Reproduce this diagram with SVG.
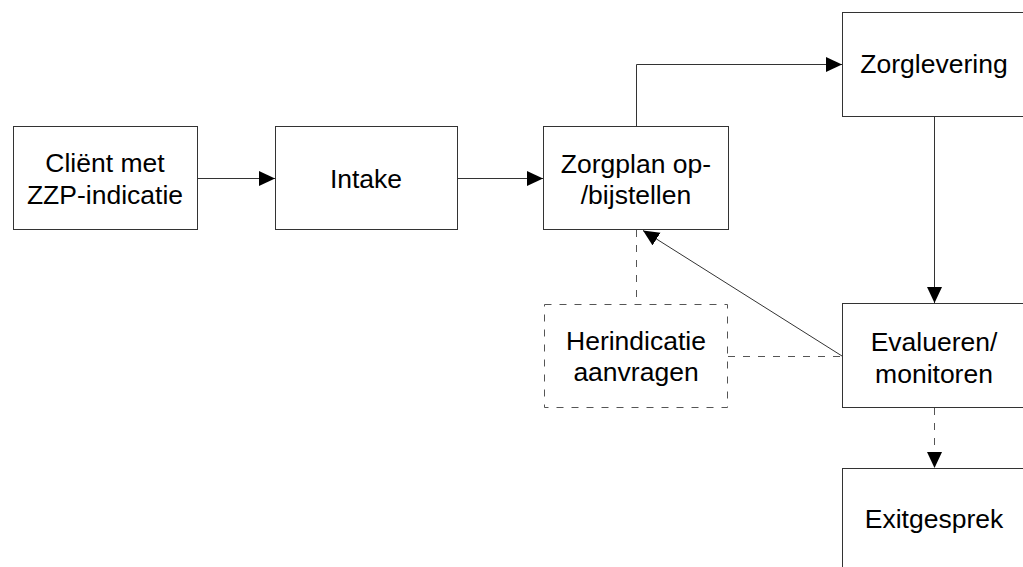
<svg xmlns="http://www.w3.org/2000/svg" width="1023" height="567" viewBox="0 0 1023 567">
<style>
.box{fill:#fff;stroke:#333;stroke-width:1}
.dbox{fill:#fff;stroke:#555;stroke-width:1;stroke-dasharray:7 8}
.t{font-family:"Liberation Sans",Arial,sans-serif;font-size:26.5px;fill:#000;text-anchor:middle}
.c{fill:none;stroke:#333;stroke-width:1}
.d{fill:none;stroke:#555;stroke-width:1;stroke-dasharray:7 8}
</style>
<defs>
<marker id="ah" markerUnits="userSpaceOnUse" markerWidth="17" markerHeight="16" refX="16" refY="7.5" orient="auto" viewBox="0 0 17 16">
<path d="M0,0 L16,7.5 L0,15 z" fill="#000"/>
</marker>
</defs>
<rect width="1023" height="567" fill="#fff"/>
<g id="connectors">
<path class="c" d="M197,178.5 H275" marker-end="url(#ah)"/>
<path class="c" d="M457,178.5 H543" marker-end="url(#ah)"/>
<path class="c" d="M636.5,126 V64.5 H842" marker-end="url(#ah)"/>
<path class="c" d="M934.5,116 V303" marker-end="url(#ah)"/>
<path class="c" d="M842,356 L643,230.5" marker-end="url(#ah)"/>
<path class="d" d="M636.5,230 V304"/>
<path class="d" d="M728,356.5 H842"/>
<path class="d" d="M934.5,408 V468" marker-end="url(#ah)"/>
</g>
<g id="n1">
<rect class="box" x="13.5" y="126.5" width="184" height="103"/>
<text class="t" x="105" y="172">Cliënt met</text>
<text class="t" x="105" y="203.5">ZZP-indicatie</text>
</g>
<g id="n2">
<rect class="box" x="275.5" y="126.5" width="182" height="103"/>
<text class="t" x="366" y="188">Intake</text>
</g>
<g id="n3">
<rect class="box" x="543.5" y="126.5" width="185" height="103"/>
<text class="t" x="636" y="172.5">Zorgplan op-</text>
<text class="t" x="636" y="204">/bijstellen</text>
</g>
<g id="n4">
<rect class="box" x="842.5" y="12.5" width="184" height="104"/>
<text class="t" x="934" y="73">Zorglevering</text>
</g>
<g id="n5">
<rect class="box" x="842.5" y="303.5" width="184" height="104"/>
<text class="t" x="934" y="350.5">Evalueren/</text>
<text class="t" x="934" y="382.5">monitoren</text>
</g>
<g id="n6">
<rect class="dbox" x="544.5" y="304.5" width="183" height="103"/>
<text class="t" x="636" y="349.5">Herindicatie</text>
<text class="t" x="636" y="381">aanvragen</text>
</g>
<g id="n7">
<rect class="box" x="842.5" y="468.5" width="184" height="110"/>
<text class="t" x="934" y="528">Exitgesprek</text>
</g>
</svg>
